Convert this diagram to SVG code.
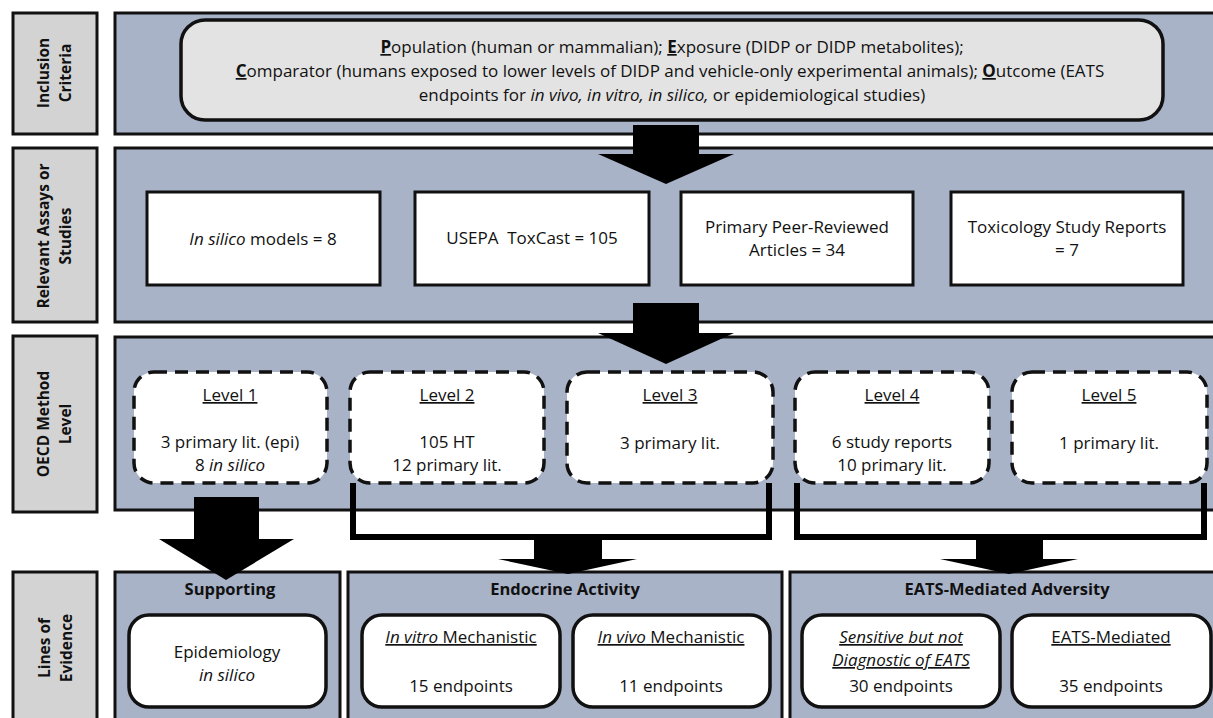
<svg xmlns="http://www.w3.org/2000/svg" width="1213" height="718" viewBox="0 0 1213 718">
<style>
text{font-family:"Open Sans","Noto Sans","Liberation Sans",sans-serif;font-size:17px;fill:#111;text-anchor:middle}
.lab{fill:#d3d3d3;stroke:#111;stroke-width:3}
.labt{font-weight:bold;font-size:15.5px}
.pan{fill:#a9b3c8;stroke:#111;stroke-width:3}
.box{fill:#fff;stroke:#111;stroke-width:3}
.dash{fill:#fff;stroke:#111;stroke-width:3.5;stroke-dasharray:13 8}
.rbox{fill:#fff;stroke:#111;stroke-width:3.5}
.arr{fill:#000}
.brk{fill:none;stroke:#000;stroke-width:6}
.u{text-decoration:underline}
.b{font-weight:bold}
.i{font-style:italic}
.t{font-size:16.5px}
</style>

<g id="row-labels">
  <g id="label-inclusion">
    <rect class="lab" x="13" y="13" width="84" height="121"/>
    <text class="labt" transform="translate(49,73) rotate(-90)">Inclusion</text>
    <text class="labt" transform="translate(71,73) rotate(-90)">Criteria</text>
  </g>
  <g id="label-assays">
    <rect class="lab" x="13" y="148" width="84" height="174"/>
    <text class="labt" transform="translate(49,236) rotate(-90)">Relevant Assays or</text>
    <text class="labt" transform="translate(71,236) rotate(-90)">Studies</text>
  </g>
  <g id="label-oecd">
    <rect class="lab" x="13" y="336" width="84" height="176"/>
    <text class="labt" transform="translate(49,424) rotate(-90)">OECD Method</text>
    <text class="labt" transform="translate(71,424) rotate(-90)">Level</text>
  </g>
  <g id="label-lines">
    <rect class="lab" x="13" y="572" width="84" height="160"/>
    <text class="labt" transform="translate(50,648) rotate(-90)">Lines of</text>
    <text class="labt" transform="translate(72,648) rotate(-90)">Evidence</text>
  </g>
</g>

<g id="panels">
  <rect class="pan" x="115" y="13" width="1102" height="121"/>
  <rect class="pan" x="115" y="148" width="1102" height="174"/>
  <rect class="pan" x="115" y="337" width="1102" height="173"/>
  <rect class="pan" x="115" y="572" width="225" height="160"/>
  <rect class="pan" x="348" y="572" width="434" height="160"/>
  <rect class="pan" x="790" y="572" width="427" height="160"/>
</g>

<g id="inclusion">
  <rect x="181" y="20" width="982" height="100" rx="24" fill="#e3e3e3" stroke="#111" stroke-width="3.5"/>
  <text x="672" y="53"><tspan class="b u">P</tspan>opulation (human or mammalian); <tspan class="b u">E</tspan>xposure (DIDP or DIDP metabolites);</text>
  <text x="670" y="77"><tspan class="b u">C</tspan>omparator (humans exposed to lower levels of DIDP and vehicle-only experimental animals); <tspan class="b u">O</tspan>utcome (EATS</text>
  <text x="672" y="101">endpoints for <tspan class="i">in vivo, in vitro, in silico,</tspan> or epidemiological studies)</text>
</g>

<g id="assay-insilico">
  <rect class="box" x="147" y="192" width="233" height="93"/>
  <text x="263" y="245"><tspan class="i">In silico</tspan> models = 8</text>
</g>
<g id="assay-toxcast">
  <rect class="box" x="415" y="192" width="234" height="93"/>
  <text x="532" y="244" xml:space="preserve">USEPA  ToxCast = 105</text>
</g>
<g id="assay-articles">
  <rect class="box" x="681" y="192" width="232" height="93"/>
  <text x="797" y="233">Primary Peer-Reviewed</text>
  <text x="797" y="256">Articles = 34</text>
</g>
<g id="assay-reports">
  <rect class="box" x="951" y="192" width="232" height="93"/>
  <text x="1067" y="233">Toxicology Study Reports</text>
  <text x="1067" y="256">= 7</text>
</g>

<g id="level1">
  <rect class="dash" x="134" y="372" width="193" height="111" rx="20"/>
  <text x="230" y="401" class="u">Level 1</text>
  <text x="230" y="448">3 primary lit. (epi)</text>
  <text x="230" y="471">8 <tspan class="i">in silico</tspan></text>
</g>
<g id="level2">
  <rect class="dash" x="350" y="372" width="194" height="111" rx="20"/>
  <text x="447" y="401" class="u">Level 2</text>
  <text x="447" y="448">105 HT</text>
  <text x="447" y="471">12 primary lit.</text>
</g>
<g id="level3">
  <rect class="dash" x="567" y="372" width="206" height="111" rx="20"/>
  <text x="670" y="401" class="u">Level 3</text>
  <text x="670" y="449">3 primary lit.</text>
</g>
<g id="level4">
  <rect class="dash" x="795" y="372" width="194" height="111" rx="20"/>
  <text x="892" y="401" class="u">Level 4</text>
  <text x="892" y="448">6 study reports</text>
  <text x="892" y="471">10 primary lit.</text>
</g>
<g id="level5">
  <rect class="dash" x="1012" y="372" width="195" height="111" rx="20"/>
  <text x="1109" y="401" class="u">Level 5</text>
  <text x="1109" y="449">1 primary lit.</text>
</g>

<g id="connectors">
  <polygon class="arr" points="633,125 699,125 699,154 734,154 666,184 598,154 633,154"/>
  <polygon class="arr" points="633,303 699,303 699,333 734,333 666,364 598,333 633,333"/>
  <path class="brk" d="M353,483 V537 H769 V483"/>
  <path class="brk" d="M797,483 V537 H1204 V483"/>
  <polygon class="arr" points="194,497 259,497 259,539 294,539 226,580 159,539 194,539"/>
  <polygon class="arr" points="534,537 602,537 602,559 637,559 568,574 498,559 534,559"/>
  <polygon class="arr" points="976,537 1043,537 1043,559 1078,559 1009,574 940,559 976,559"/>
</g>

<g id="supporting">
  <text x="230" y="595" class="b t">Supporting</text>
  <rect class="rbox" x="129" y="615" width="197" height="92" rx="20"/>
  <text x="227" y="658">Epidemiology</text>
  <text x="227" y="681" class="i">in silico</text>
</g>
<g id="endocrine">
  <text x="565" y="595" class="b t">Endocrine Activity</text>
  <rect class="rbox" x="362" y="615" width="198" height="92" rx="20"/>
  <text x="461" y="643" class="u"><tspan class="i">In vitro</tspan> Mechanistic</text>
  <text x="461" y="692">15 endpoints</text>
  <rect class="rbox" x="573" y="615" width="197" height="92" rx="20"/>
  <text x="671" y="643" class="u"><tspan class="i">In vivo</tspan> Mechanistic</text>
  <text x="671" y="692">11 endpoints</text>
</g>
<g id="eats">
  <text x="1007" y="595" class="b t">EATS-Mediated Adversity</text>
  <rect class="rbox" x="802" y="615" width="198" height="92" rx="20"/>
  <text x="901" y="643" class="i u">Sensitive but not</text>
  <text x="901" y="666" class="i u">Diagnostic of EATS</text>
  <text x="901" y="692">30 endpoints</text>
  <rect class="rbox" x="1012" y="615" width="199" height="92" rx="20"/>
  <text x="1111" y="643" class="u">EATS-Mediated</text>
  <text x="1111" y="692">35 endpoints</text>
</g>
</svg>
